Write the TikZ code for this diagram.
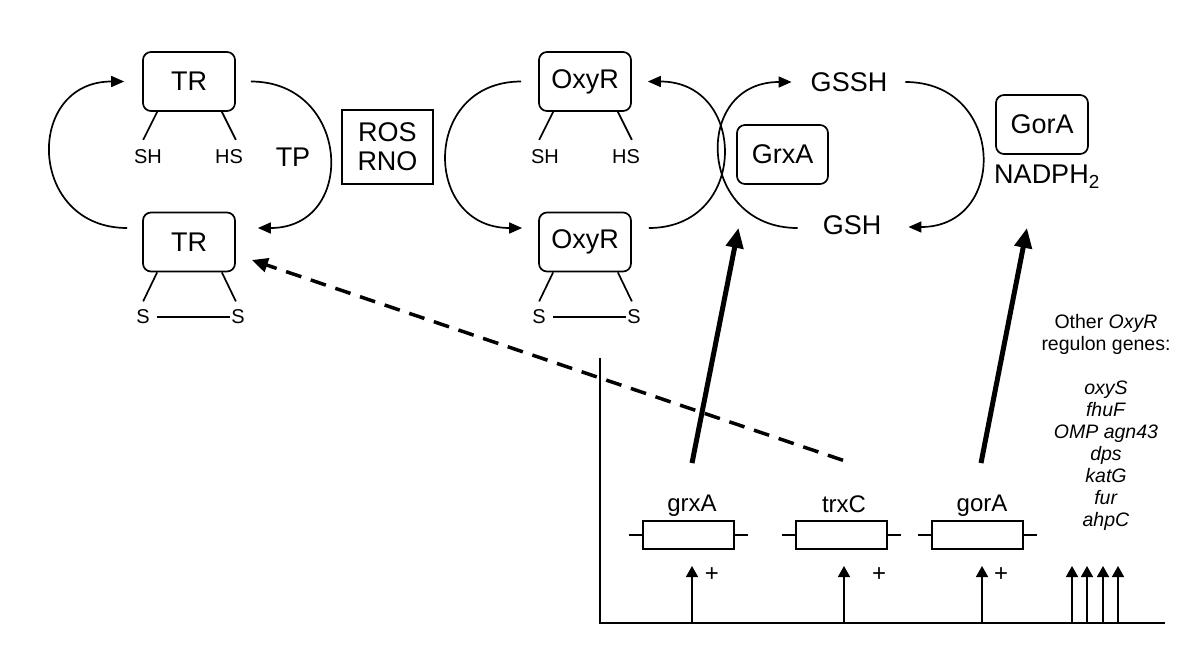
\documentclass[tikz,border=0pt]{standalone}
\usepackage{fontspec}
\setmainfont{Liberation Sans}
\usetikzlibrary{arrows.meta,calc}

\begin{document}
\begin{tikzpicture}[x=1pt,y=-1pt,
  protein/.style={draw,rounded corners=8pt,line width=1.7pt,minimum width=92pt,minimum height=59pt,font=\fontsize{27}{29}\selectfont},
  genebox/.style={draw,line width=1.7pt,minimum width=91pt,minimum height=28pt,inner sep=0pt},
  bigtxt/.style={inner sep=0pt,font=\fontsize{27}{29}\selectfont},
  smalltxt/.style={inner sep=1pt,font=\fontsize{20}{22}\selectfont},
  genetxt/.style={inner sep=0pt,font=\fontsize{24}{26}\selectfont},
  leg/.style={line width=1.7pt},
  turnover/.style={line width=1.7pt,>={Triangle[length=13pt,width=11pt]},->},
  promoter/.style={line width=1.7pt,>={Triangle[length=11pt,width=12pt]},->},
  induce/.style={line width=5pt,>={Triangle[length=20pt,width=17pt]},->},
  dashline/.style={line width=3.5pt,dash pattern=on 16pt off 10pt,>={Triangle[length=16pt,width=14pt]},->}]
  \useasboundingbox (0,0) rectangle (1200,670);

  \node[protein] (trtop) at (189,81.5) {TR};
  \node[protein] (trbot) at (189,242) {TR};
  \node[protein] (oxytop) at (585,81.5) {OxyR};
  \node[protein] (oxybot) at (585,242) {OxyR};
  \node[protein,minimum width=91pt] (grx) at (782.5,154.5) {GrxA};
  \node[protein] (gor) at (1042,124.5) {GorA};
  \node[draw,line width=1.7pt,minimum width=91pt,minimum height=74pt,align=center,font=\fontsize{27}{29}\selectfont] (ros) at (387.5,147) {ROS\\RNO};

  \draw[leg] ($(trtop.south west)+(15,0)$) -- ++(-14,28);
  \draw[leg] ($(trtop.south east)+(-14,0)$) -- ++(14,28);
  \node[smalltxt] (trSH) at (148,157) {SH};
  \node[smalltxt] (trHS) at (229,157) {HS};
  \draw[leg] ($(trbot.south west)+(15,0)$) -- ++(-14,29);
  \draw[leg] ($(trbot.south east)+(-14,0)$) -- ++(14,29);
  \node[smalltxt] (trS1) at (143,317) {S};
  \node[smalltxt] (trS2) at (238,317) {S};
  \draw[leg,shorten <=6pt] (trS1) -- (trS2);

  \draw[leg] ($(oxytop.south west)+(15,0)$) -- ++(-14,28);
  \draw[leg] ($(oxytop.south east)+(-14,0)$) -- ++(14,28);
  \node[smalltxt] (oxySH) at (545,157) {SH};
  \node[smalltxt] (oxyHS) at (626,157) {HS};
  \draw[leg] ($(oxybot.south west)+(15,0)$) -- ++(-14,29);
  \draw[leg] ($(oxybot.south east)+(-14,0)$) -- ++(14,29);
  \node[smalltxt] (oxyS1) at (539,317) {S};
  \node[smalltxt] (oxyS2) at (634,317) {S};
  \draw[leg,shorten <=6pt] (oxyS1) -- (oxyS2);

  \draw[turnover] ($(trbot.west)+(-15,-14)$) .. controls +(-100,0) and +(-100,0) .. ($(trtop.west)+(-18,0)$);
  \draw[turnover] ($(trtop.east)+(15,0)$) .. controls +(100,0) and +(100,0) .. ($(trbot.east)+(22,-14)$);
  \node[bigtxt] (tp) at (293,157) {TP};
  \draw[turnover] ($(oxytop.west)+(-17,0)$) .. controls +(-100,0) and +(-100,0) .. ($(oxybot.west)+(-16,-14)$);
  \draw[turnover] ($(oxybot.east)+(17,-14)$) .. controls +(100,0) and +(100,0) .. ($(oxytop.east)+(16,0)$);

  \node[bigtxt] (gssh) at (849,82) {GSSH};
  \node[bigtxt] (gsh) at (852,225) {GSH};
  \node[bigtxt] (nadph) at (1047,177) {NADPH\textsubscript{2}};
  \draw[turnover] ($(gsh.west)+(-25,3)$) .. controls +(-100,0) and +(-100,0) .. ($(gssh.west)+(-19,0)$);
  \draw[turnover] ($(gssh.east)+(18,0)$) .. controls +(100,0) and +(100,0) .. ($(gsh.east)+(27,2)$);

  \coordinate (axtop) at (600,358);
  \coordinate (axo) at (600,623);
  \coordinate (axend) at (1165,623);
  \draw[leg] (axtop) -- (axo) -- (axend);

  \node[genetxt] (grxAlbl) at (692,506) {grxA};
  \node[genebox] (grxAbox) at (688.5,535) {};
  \draw[leg] (grxAbox.west) -- ++(-13,0) (grxAbox.east) -- ++(13,0);
  \node[genetxt] (trxClbl) at (844,504) {trxC};
  \node[genebox] (trxCbox) at (841.5,535) {};
  \draw[leg] (trxCbox.west) -- ++(-13,0) (trxCbox.east) -- ++(13,0);
  \node[genetxt] (gorAlbl) at (982,506) {gorA};
  \node[genebox] (gorAbox) at (977.5,535) {};
  \draw[leg] (gorAbox.west) -- ++(-13,0) (gorAbox.east) -- ++(13,0);

  \draw[promoter] (grxAlbl |- axo) -- ++(0,-57);
  \draw[promoter] (trxClbl |- axo) -- ++(0,-57);
  \draw[promoter] (gorAlbl |- axo) -- ++(0,-57);
  \draw[promoter] (1072,0 |- axo) -- ++(0,-57);
  \draw[promoter] (1087,0 |- axo) -- ++(0,-57);
  \draw[promoter] (1103,0 |- axo) -- ++(0,-57);
  \draw[promoter] (1118,0 |- axo) -- ++(0,-57);
  \node[genetxt] (grxAplus) at (712,575) {+};
  \node[genetxt] (trxCplus) at (879,575) {+};
  \node[genetxt] (gorAplus) at (1001,575) {+};

  \draw[induce] ($(grxAlbl.north)+(0,-32)$) -- ($(grx.south)+(-44,43)$);
  \draw[induce] ($(gorAlbl.north)+(-1,-32)$) -- ($(gor.south)+(-15,73)$);
  \draw[dashline] ($(trxClbl.north)+(-1,-35)$) -- ($(trbot.east)+(16,18)$);

  \node[smalltxt,anchor=north,align=center,inner sep=0pt,font=\fontsize{19.5}{22}\selectfont] (others) at (1106,314)
    {Other \textit{OxyR}\\regulon genes:\\[22pt]\textit{oxyS}\\\textit{fhuF}\\\textit{OMP agn43}\\\textit{dps}\\\textit{katG}\\\textit{fur}\\\textit{ahpC}};
\end{tikzpicture}
\end{document}
